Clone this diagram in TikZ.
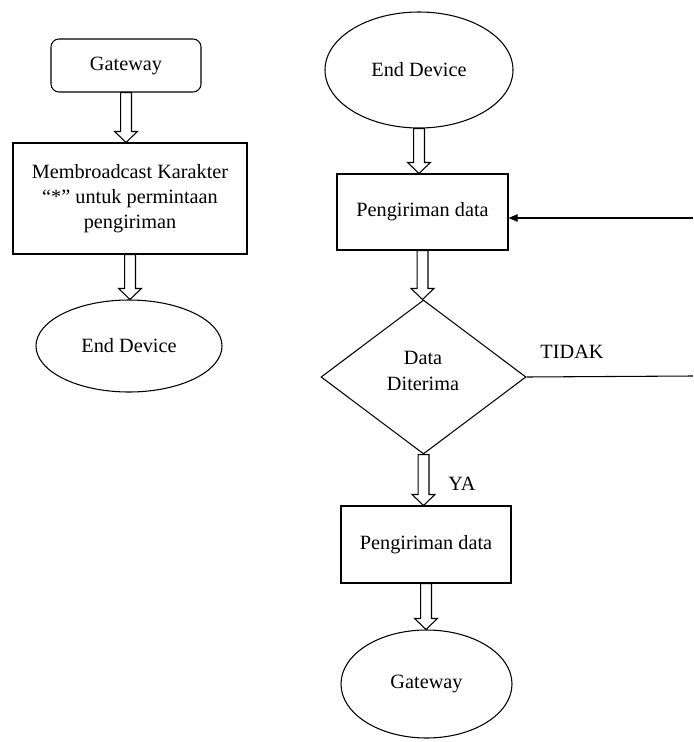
\documentclass[tikz,border=0pt]{standalone}
\usepackage{fontspec}
\setmainfont{Liberation Serif}
\newfontfamily\flowfont{Liberation Serif}
\usetikzlibrary{shapes.geometric,arrows.meta,calc}

% Hollow block arrow between two anchors (vertical flow)
\newcommand\hollowarrow[2]{%
  \draw[hollowline] let \p1=(#1), \p2=(#2) in
    (\x1-4.1pt,\y1) -- (\x1-4.1pt,\y2+8.25pt) -- (\x1-8.6pt,\y2+8.25pt)
    -- (\x1,\y2) -- (\x1+8.6pt,\y2+8.25pt) -- (\x1+4.1pt,\y2+8.25pt)
    -- (\x1+4.1pt,\y1) -- cycle;}

\tikzset{
  txt/.style={font=\flowfont\fontsize{15.2}{19}\selectfont},
  base/.style={draw, line width=0.8pt, inner sep=0pt, align=center, txt},
  procbox/.style={base, rectangle},
  termbox/.style={base, rectangle, rounded corners=6pt},
  oval/.style={base, ellipse},
  decision/.style={base, diamond},
  hollowline/.style={draw, line width=0.8pt, fill=white, line join=miter},
  plainline/.style={line width=0.8pt},
  lbl/.style={txt, inner sep=0pt, align=center}
}

\begin{document}
\begin{tikzpicture}[x=0.75pt, y=-0.75pt]
  \useasboundingbox (0,0) rectangle (693,742);

  % Left flow
  \node[termbox, minimum width=150*0.75pt, minimum height=53*0.75pt] (gw) at (126,65.5) {Gateway};
  \node[procbox, minimum width=234*0.75pt, minimum height=111*0.75pt] (bc) at (130,198.5)
       {Membroadcast Karakter\\“*” untuk permintaan\\pengiriman};
  \node[oval, minimum width=186*0.75pt, minimum height=92*0.75pt] (edl) at (129,346) {End Device};

  \hollowarrow{gw.south}{bc.north}
  \hollowarrow{bc.south}{edl.north}

  % Right flow
  \node[oval, minimum width=188*0.75pt, minimum height=116*0.75pt] (edr) at (419,70) {End Device};
  \node[procbox, minimum width=171*0.75pt, minimum height=76*0.75pt] (pd1) at (422.5,212) {Pengiriman data};
  \node[decision, minimum width=205*0.75pt, minimum height=154*0.75pt] (dt) at (423.5,377) {};
  \node[lbl] (dttext) at (423,371) {Data\\Diterima};
  \node[procbox, minimum width=170*0.75pt, minimum height=77*0.75pt] (pd2) at (426,544.5) {Pengiriman data};
  \node[oval, minimum width=171*0.75pt, minimum height=108*0.75pt] (gwr) at (426.5,684) {Gateway};

  \hollowarrow{edr.south}{pd1.north}
  \hollowarrow{pd1.south}{dt.north}
  \hollowarrow{dt.south}{pd2.north}
  \hollowarrow{pd2.south}{gwr.north}

  % Retry loop on the right edge
  \coordinate (tidakend) at (693,376);
  \coordinate (retry) at (693,218);
  \draw[plainline] (dt.east) -- (tidakend);
  \draw[plainline, -{Triangle[length=6.75pt,width=5.5pt]}] (retry) -- (retry -| pd1.east);

  % Branch labels
  \node[lbl] (tidak) at (572,352) {TIDAK};
  \node[lbl] (ya) at (462,484) {YA};
\end{tikzpicture}
\end{document}
